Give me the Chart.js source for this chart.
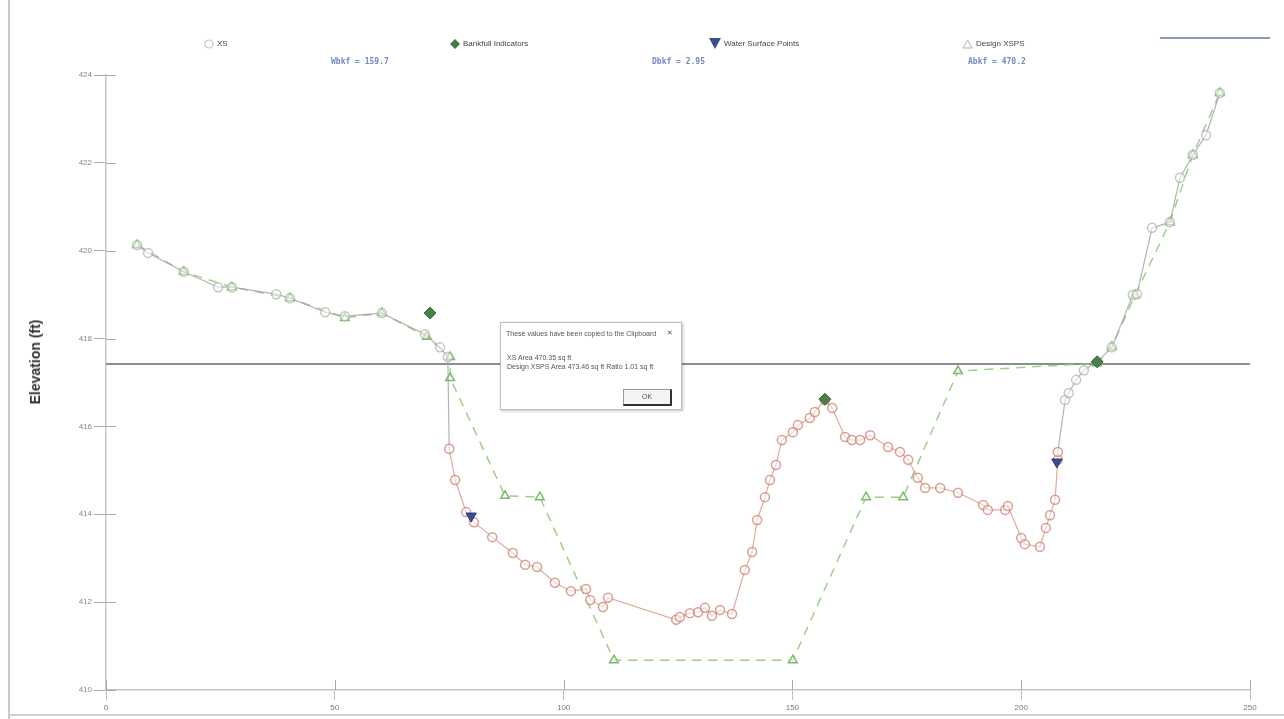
<!DOCTYPE html>
<html>
<head>
<meta charset="utf-8">
<script src="https://cdn.jsdelivr.net/npm/chart.js@4.4.1/dist/chart.umd.min.js"></script>
<style>
  html, body { margin: 0; padding: 0; background: #fff; }
  #wrap { position: relative; width: 1284px; height: 719px; overflow: hidden; font-family: "Liberation Sans", Arial, sans-serif; }
  #chart { position: absolute; left: 0; top: 0; }
  .frameL { position: absolute; left: 8px; top: 0; width: 2px; height: 719px; background: #c9c9c9; }
  .frameB { position: absolute; left: 8px; top: 714px; width: 1276px; height: 2px; background: #cfcfcf; }
  .leg { position: absolute; top: 38px; font-size: 8px; color: #444; white-space: nowrap; line-height: 12px; }
  .leg .sym { display: inline-block; vertical-align: middle; margin-right: 3px; }
  .stat { position: absolute; top: 57px; font-size: 8px; font-weight: bold; color: #7388c4; white-space: nowrap; font-family: "DejaVu Sans Mono", monospace; }
  .topline { position: absolute; left: 1160px; top: 37px; width: 110px; height: 2px; background: #8a9abb; }
  .ytitle { position: absolute; left: 35px; top: 362px; transform: translate(-50%, -50%) rotate(-90deg); font-size: 14px; font-weight: bold; color: #333; white-space: nowrap; }
  #dlg { position: absolute; left: 500px; top: 322px; width: 180px; height: 86px; background: #fff; border: 1px solid #bdbdbd; box-shadow: 1px 1px 3px rgba(0,0,0,0.25); font-size: 7px; color: #555; }
  #dlg .t { position: absolute; left: 5px; top: 7px; }
  #dlg .x { position: absolute; right: 8px; top: 6px; font-size: 7px; }
  #dlg .b1 { position: absolute; left: 6px; top: 31px; }
  #dlg .b2 { position: absolute; left: 6px; top: 40px; }
  #dlg .ok { position: absolute; left: 122px; top: 66px; width: 46px; height: 14px; border: 1px solid #999; border-bottom: 2px solid #333; border-right: 2px solid #333; text-align: center; line-height: 14px; background: #f4f4f4; }
</style>
</head>
<body>
<div id="wrap">
  <canvas id="chart" width="1284" height="719"></canvas>
  <div class="frameL"></div>
  <div class="frameB"></div>
  <div class="ytitle">Elevation (ft)</div>

  <div class="leg" style="left:204px;"><svg class="sym" width="10" height="10"><circle cx="5" cy="5" r="4" fill="#fff" stroke="#c4c4c4" stroke-width="1.2"/></svg>XS</div>
  <div class="leg" style="left:450px;"><svg class="sym" width="10" height="10"><polygon points="5,0 10,5 5,10 0,5" fill="#3f7d44"/></svg>Bankfull Indicators</div>
  <div class="leg" style="left:709px;"><svg class="sym" width="12" height="11"><polygon points="0,0 12,0 6,11" fill="#3b4d92"/></svg>Water Surface Points</div>
  <div class="leg" style="left:962px;"><svg class="sym" width="11" height="10"><polygon points="5.5,1 10,9 1,9" fill="#fff" stroke="#b0b0b0" stroke-width="1"/></svg>Design XSPS</div>

  <div class="stat" id="statW" style="left:331px;"></div>
  <div class="stat" id="statD" style="left:652px;"></div>
  <div class="stat" id="statA" style="left:968px;"></div>
  <div class="topline"></div>

  <div id="dlg">
    <div class="t">These values have been copied to the Clipboard</div>
    <div class="x">&#x2715;</div>
    <div class="b1" id="dlgXS"></div>
    <div class="b2" id="dlgDesign"></div>
    <div class="ok">OK</div>
  </div>
</div>

<script>
// Surveyed cross-section (station ft, elevation ft)
const xsStation = [6.8, 9.2, 17.0, 24.5, 27.5, 37.2, 40.2, 47.9, 52.2, 60.3, 69.7, 73.0, 74.7, 75.0, 76.3, 78.7,
  80.4, 84.4, 88.9, 91.6, 94.2, 98.1, 101.6, 104.9, 105.8, 108.6, 109.7, 124.6, 125.4, 127.6, 129.4, 130.9,
  132.4, 134.2, 136.8, 139.6, 141.2, 142.3, 144.0, 145.1, 146.4, 147.7, 150.1, 151.2, 153.8, 154.9, 157.1,
  158.7, 161.5, 163.0, 164.8, 167.0, 170.9, 173.5, 175.3, 177.4, 179.0, 182.3, 186.2, 191.7, 192.7, 196.5,
  197.1, 200.0, 200.8, 204.1, 205.4, 206.3, 207.4, 208.0, 208.0, 209.6, 210.4, 212.0, 213.7, 216.6, 219.8,
  224.4, 225.3, 228.6, 232.5, 234.7, 237.5, 240.4, 243.4];
const xsElevation = [420.13, 419.95, 419.52, 419.17, 419.17, 419.01, 418.92, 418.60, 418.51, 418.58, 418.10,
  417.80, 417.58, 415.49, 414.78, 414.05, 413.82, 413.48, 413.12, 412.85, 412.80, 412.44, 412.25, 412.30,
  412.05, 411.89, 412.10, 411.60, 411.66, 411.75, 411.77, 411.87, 411.69, 411.82, 411.73, 412.73, 413.14,
  413.87, 414.39, 414.78, 415.12, 415.69, 415.87, 416.03, 416.19, 416.33, 416.60, 416.42, 415.76, 415.69,
  415.69, 415.80, 415.53, 415.42, 415.24, 414.83, 414.60, 414.60, 414.49, 414.21, 414.10, 414.10, 414.19,
  413.46, 413.32, 413.26, 413.69, 413.98, 414.33, 415.24, 415.42, 416.60, 416.76, 417.06, 417.28, 417.47,
  417.80, 418.99, 419.01, 420.52, 420.65, 421.66, 422.18, 422.63, 423.59];

// Design cross-section
const designStation = [6.8, 17.0, 27.5, 40.2, 52.2, 60.3, 70.1, 75.2, 75.2, 87.2, 94.8, 111.0, 150.1, 166.1,
  174.2, 186.2, 216.6, 219.8, 224.9, 232.5, 237.5, 243.4];
const designElevation = [420.13, 419.52, 419.17, 418.92, 418.47, 418.58, 418.04, 417.58, 417.10, 414.42,
  414.39, 410.68, 410.68, 414.39, 414.39, 417.26, 417.44, 417.81, 418.99, 420.65, 422.18, 423.59];

// Bankfull indicators and water surface shots
const bankfullStation = [70.8, 157.1, 216.6];
const bankfullElevation = [418.58, 416.62, 417.47];
const wsStation = [79.8, 207.8];
const wsElevation = [413.96, 415.19];

// Bankfull water surface elevation
const wselElevation = 417.42;

// Summary values
const wbkf = 159.7, dbkf = 2.95, abkf = 470.2;
const xsArea = 470.35, designArea = 473.46, areaRatio = 1.01;

// Axis ticks
const xTicks = [0, 50, 100, 150, 200, 250];
const yTicks = [410, 412, 414, 416, 418, 420, 422, 424];

document.getElementById('statW').textContent = 'Wbkf = ' + wbkf.toFixed(1);
document.getElementById('statD').textContent = 'Dbkf = ' + dbkf.toFixed(2);
document.getElementById('statA').textContent = 'Abkf = ' + abkf.toFixed(1);
document.getElementById('dlgXS').textContent = 'XS Area ' + xsArea.toFixed(2) + ' sq ft';
document.getElementById('dlgDesign').textContent = 'Design XSPS Area ' + designArea.toFixed(2) +
  ' sq ft Ratio ' + areaRatio.toFixed(2) + ' sq ft';

const toPts = (xs, ys) => xs.map((x, i) => ({ x: x, y: ys[i] }));

// Points inside the bankfull channel are drawn in a warm tone
const leftBank = Math.min(...wsStation) - 5;
const rightBank = Math.max(...wsStation) + 1.5;
const inChannel = x => x >= leftBank && x <= rightBank;
const xsBorder = xsStation.map(x => inChannel(x) ? 'rgba(205,125,110,0.75)' : 'rgba(170,175,165,0.7)');

// Short tick marks that continue a little inside the plot area
const innerTicks = {
  id: 'innerTicks',
  afterDatasetsDraw(chart) {
    const { ctx, chartArea, scales } = chart;
    ctx.save();
    ctx.lineWidth = 1;
    ctx.strokeStyle = '#aaa';
    scales.y.ticks.forEach(t => {
      const py = Math.round(scales.y.getPixelForValue(t.value)) + 0.5;
      ctx.beginPath(); ctx.moveTo(chartArea.left, py); ctx.lineTo(chartArea.left + 10, py); ctx.stroke();
    });
    scales.x.ticks.forEach(t => {
      const px = Math.round(scales.x.getPixelForValue(t.value)) + 0.5;
      ctx.beginPath(); ctx.moveTo(px, chartArea.bottom); ctx.lineTo(px, chartArea.bottom - 10); ctx.stroke();
    });
    ctx.restore();
  }
};

new Chart(document.getElementById('chart'), {
  type: 'scatter',
  plugins: [innerTicks],
  data: {
    datasets: [
      {
        label: 'WSEL',
        data: [{ x: xTicks[0], y: wselElevation }, { x: xTicks[xTicks.length - 1], y: wselElevation }],
        showLine: true,
        borderColor: '#8d8d8d',
        borderWidth: 2,
        pointRadius: 0,
        order: 5
      },
      {
        label: 'Design XSPS',
        data: toPts(designStation, designElevation),
        showLine: true,
        borderColor: 'rgba(140,200,120,0.85)',
        borderDash: [9, 7],
        borderWidth: 1.5,
        pointStyle: 'triangle',
        pointRadius: 5,
        pointBackgroundColor: 'rgba(255,255,255,0.6)',
        pointBorderColor: '#79bb6a',
        pointBorderWidth: 1.5,
        order: 3
      },
      {
        label: 'XS',
        data: toPts(xsStation, xsElevation),
        showLine: true,
        borderWidth: 1.2,
        segment: {
          borderColor: ctx => inChannel(ctx.p0.parsed.x) && inChannel(ctx.p1.parsed.x)
            ? 'rgba(215,150,135,0.8)' : 'rgba(160,160,160,0.8)'
        },
        pointStyle: 'circle',
        pointRadius: 4.5,
        pointBackgroundColor: 'rgba(255,255,255,0.5)',
        pointBorderColor: xsBorder,
        pointBorderWidth: 1.5,
        order: 2
      },
      {
        label: 'Bankfull Indicators',
        data: toPts(bankfullStation, bankfullElevation),
        pointStyle: 'rectRot',
        pointRadius: 6,
        pointBackgroundColor: '#4a7f48',
        pointBorderColor: '#3a6a3a',
        order: 1
      },
      {
        label: 'Water Surface Points',
        data: toPts(wsStation, wsElevation),
        pointStyle: 'triangle',
        rotation: 180,
        pointRadius: 6,
        pointBackgroundColor: '#3b4d92',
        pointBorderColor: '#2e3c78',
        order: 0
      }
    ]
  },
  options: {
    responsive: false,
    animation: false,
    clip: false,
    layout: { padding: { top: 75, right: 34, left: 0, bottom: 0 } },
    plugins: { legend: { display: false }, tooltip: { enabled: false } },
    scales: {
      x: {
        type: 'linear',
        min: xTicks[0],
        max: xTicks[xTicks.length - 1],
        afterBuildTicks: s => { s.ticks = xTicks.map(v => ({ value: v })); },
        afterFit: s => { s.height = 29; },
        grid: { drawOnChartArea: false, drawTicks: true, tickLength: 10, color: '#bdbdbd' },
        border: { color: '#c4c4c4', width: 1.5 },
        ticks: { color: '#777', font: { size: 8, family: 'Liberation Sans' }, padding: 3 }
      },
      y: {
        type: 'linear',
        min: yTicks[0],
        max: yTicks[yTicks.length - 1],
        afterBuildTicks: s => { s.ticks = yTicks.map(v => ({ value: v })); },
        afterFit: s => { s.width = 106; },
        grid: { drawOnChartArea: false, drawTicks: true, tickLength: 12, color: '#aaa' },
        border: { color: '#c4c4c4', width: 1.5 },
        ticks: { color: '#888', font: { size: 8, family: 'Liberation Sans' }, padding: 2 }
      }
    }
  }
});
</script>
</body>
</html>
